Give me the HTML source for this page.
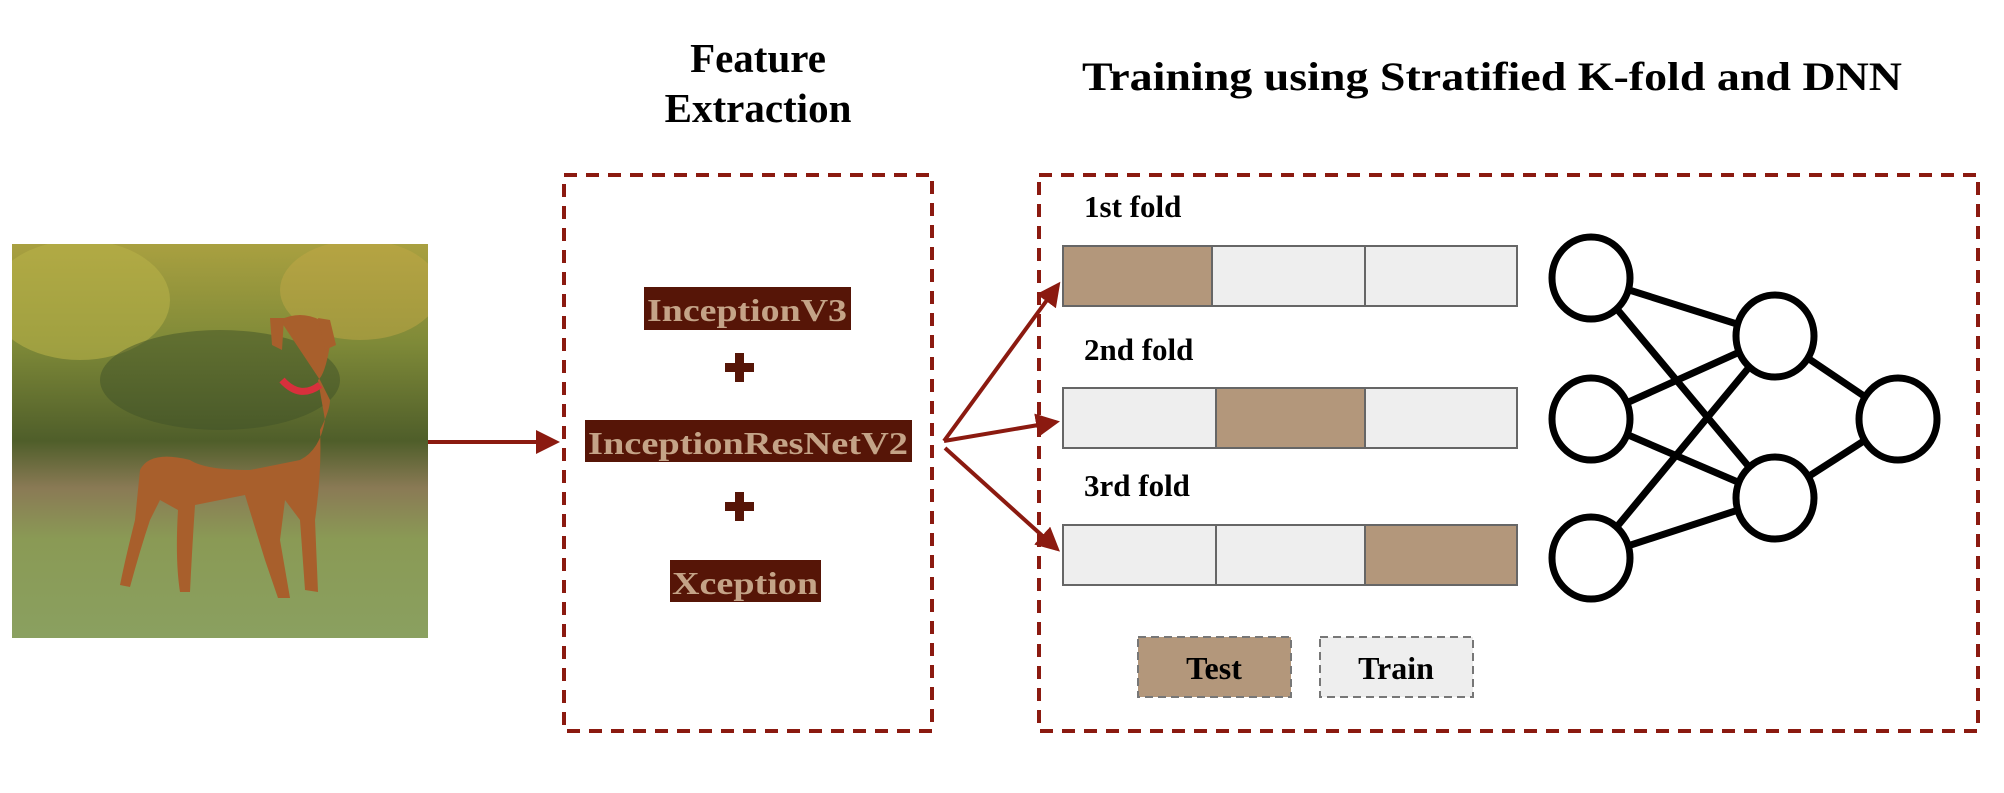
<!DOCTYPE html>
<html><head><meta charset="utf-8"><style>
html,body{margin:0;padding:0;background:#fff;width:2004px;height:793px;overflow:hidden}
svg{display:block}
text{font-family:"Liberation Serif",serif;font-weight:bold}
</style></head><body>
<svg width="2004" height="793" viewBox="0 0 2004 793" xmlns="http://www.w3.org/2000/svg">
<defs>
<linearGradient id="bg" x1="0" y1="0" x2="0" y2="1">
<stop offset="0" stop-color="#a9a040"/><stop offset="0.25" stop-color="#7f8a38"/><stop offset="0.5" stop-color="#4f5e2a"/><stop offset="0.62" stop-color="#8a7a55"/><stop offset="0.75" stop-color="#8a9a55"/><stop offset="1" stop-color="#8aa060"/>
</linearGradient>
<clipPath id="pc"><rect x="12" y="244" width="416" height="394"/></clipPath>
<marker id="ah" markerWidth="6" markerHeight="6" refX="5" refY="3" orient="auto" markerUnits="strokeWidth"><path d="M0,0 L6,3 L0,6 z" fill="#8b1a10"/></marker>
</defs>
<!-- photo -->
<g clip-path="url(#pc)">
<rect x="12" y="244" width="416" height="394" fill="url(#bg)"/>
<ellipse cx="80" cy="300" rx="90" ry="60" fill="#b8b048" opacity="0.6"/>
<ellipse cx="360" cy="290" rx="80" ry="50" fill="#c2a846" opacity="0.5"/>
<ellipse cx="220" cy="380" rx="120" ry="50" fill="#3f5228" opacity="0.5"/>
<g fill="#a85f2c">
<path d="M280,320 Q300,310 320,320 L330,345 Q325,375 318,380 L325,420 Q320,450 300,460 L250,470 Q205,470 190,460 Q150,450 140,470 L135,520 Q125,560 120,585 L130,587 Q140,550 150,520 L160,500 L178,510 Q175,560 180,592 L190,592 Q192,550 195,505 L245,495 L265,560 L278,598 L290,598 L280,540 L285,500 L300,520 L305,590 L318,592 L315,520 Q322,470 320,430 Q330,410 330,400 L320,380 Z"/>
<path d="M270,318 L284,318 L282,350 L272,345 Z"/>
<path d="M318,318 L330,320 L336,345 L325,350 Z"/>
</g>
<path d="M282,380 Q300,400 320,385" stroke="#d8303c" stroke-width="7" fill="none"/>
</g>
<!-- titles -->
<text x="758" y="72" font-size="41" text-anchor="middle">Feature</text>
<text x="758" y="122" font-size="41" text-anchor="middle">Extraction</text>
<text x="1082" y="90" font-size="40" textLength="820" lengthAdjust="spacingAndGlyphs">Training using Stratified K-fold and DNN</text>
<!-- boxes -->
<rect x="564" y="175" width="368" height="556" fill="none" stroke="#8b1a10" stroke-width="4" stroke-dasharray="13 9"/>
<rect x="1039" y="175" width="939" height="556" fill="none" stroke="#8b1a10" stroke-width="4" stroke-dasharray="13 9"/>
<!-- model labels -->
<rect x="644" y="287" width="207" height="43" fill="#561507"/>
<text x="747" y="321" font-size="32" fill="#c4a387" text-anchor="middle" textLength="200" lengthAdjust="spacingAndGlyphs">InceptionV3</text>
<rect x="585" y="420" width="327" height="42" fill="#561507"/>
<text x="748" y="454" font-size="32" fill="#c4a387" text-anchor="middle" textLength="320" lengthAdjust="spacingAndGlyphs">InceptionResNetV2</text>
<rect x="670" y="560" width="151" height="42" fill="#561507"/>
<text x="745" y="594" font-size="32" fill="#c4a387" text-anchor="middle" textLength="146" lengthAdjust="spacingAndGlyphs">Xception</text>
<g fill="#561507">
<rect x="725" y="363" width="29" height="9"/><rect x="735" y="353" width="9" height="29"/>
<rect x="725" y="502" width="29" height="9"/><rect x="735" y="492" width="9" height="29"/>
</g>
<!-- arrows -->
<g stroke="#8b1a10" stroke-width="4" fill="none">
<line x1="428" y1="442" x2="556" y2="442" marker-end="url(#ah)"/>
<line x1="944" y1="441" x2="1058" y2="285" marker-end="url(#ah)"/>
<line x1="944" y1="441" x2="1056" y2="422" marker-end="url(#ah)"/>
<line x1="945" y1="448" x2="1057" y2="549" marker-end="url(#ah)"/>
</g>
<!-- folds -->
<text x="1084" y="217" font-size="31">1st fold</text>
<text x="1084" y="360" font-size="31">2nd fold</text>
<text x="1084" y="496" font-size="31">3rd fold</text>
<g stroke="#666" stroke-width="2">
<rect x="1063" y="246" width="149" height="60" fill="#b3977b"/>
<rect x="1212" y="246" width="153" height="60" fill="#eeeeee"/>
<rect x="1365" y="246" width="152" height="60" fill="#eeeeee"/>
<rect x="1063" y="388" width="153" height="60" fill="#eeeeee"/>
<rect x="1216" y="388" width="149" height="60" fill="#b3977b"/>
<rect x="1365" y="388" width="152" height="60" fill="#eeeeee"/>
<rect x="1063" y="525" width="153" height="60" fill="#eeeeee"/>
<rect x="1216" y="525" width="149" height="60" fill="#eeeeee"/>
<rect x="1365" y="525" width="152" height="60" fill="#b3977b"/>
</g>
<!-- legend -->
<rect x="1138" y="637" width="153" height="60" fill="#b3977b" stroke="#777" stroke-width="2" stroke-dasharray="8 5"/>
<text x="1214" y="679" font-size="32" text-anchor="middle">Test</text>
<rect x="1320" y="637" width="153" height="60" fill="#eeeeee" stroke="#777" stroke-width="2" stroke-dasharray="8 5"/>
<text x="1396" y="679" font-size="32" text-anchor="middle">Train</text>
<!-- NN -->
<g stroke="#000" stroke-width="7" fill="#fff">
<line x1="1591" y1="278" x2="1775" y2="336"/>
<line x1="1591" y1="278" x2="1775" y2="498"/>
<line x1="1591" y1="419" x2="1775" y2="336"/>
<line x1="1591" y1="419" x2="1775" y2="498"/>
<line x1="1591" y1="558" x2="1775" y2="336"/>
<line x1="1591" y1="558" x2="1775" y2="498"/>
<line x1="1775" y1="336" x2="1898" y2="419"/>
<line x1="1775" y1="498" x2="1898" y2="419"/>
<ellipse cx="1591" cy="278" rx="39" ry="41"/>
<ellipse cx="1591" cy="419" rx="39" ry="41"/>
<ellipse cx="1591" cy="558" rx="39" ry="41"/>
<ellipse cx="1775" cy="336" rx="39" ry="41"/>
<ellipse cx="1775" cy="498" rx="39" ry="41"/>
<ellipse cx="1898" cy="419" rx="39" ry="41"/>
</g>
</svg>
</body></html>
